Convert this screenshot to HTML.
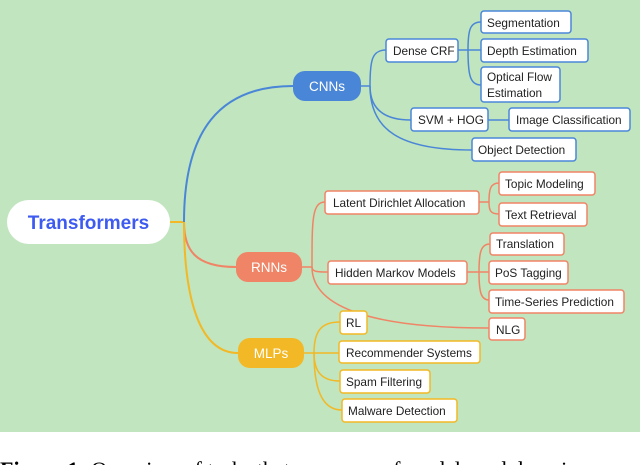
<!DOCTYPE html>
<html><head><meta charset="utf-8"><style>
body{margin:0;width:640px;height:465px;overflow:hidden;background:#fff}
svg{display:block}
text{font-family:"Liberation Sans","DejaVu Sans",sans-serif;font-size:11.8px;fill:#222}
.cap{font-family:"Liberation Serif",serif;font-size:22px;fill:#000}
</style></head><body>
<svg width="640" height="465" viewBox="0 0 640 465">
<rect x="0" y="0" width="640" height="432" fill="#c1e5be"/>
<g fill="none" stroke-width="2">
<path d="M170 222 H184" stroke="#f2b825"/>
<path d="M184 222 C184 130 220 86 293 86" stroke="#4a86d8"/>
<path d="M184 222 C184 250 195 267 236 267" stroke="#f08466"/>
<path d="M184 222 C184 300 200 353 238 353" stroke="#f2b825"/>
</g>
<g fill="none" stroke="#4a86d8" stroke-width="1.5">
<path d="M361 86 H370"/>
<path d="M370 86 C370 60 372 50 386 50"/>
<path d="M370 86 C370 110 385 120 411 120"/>
<path d="M370 86 C370 130 400 150 472 150"/>
<path d="M458 50 H468"/>
<path d="M468 50 C468 30 470 22 481 22"/>
<path d="M468 50 H481"/>
<path d="M468 50 C468 75 470 85 481 85"/>
<path d="M488 120 H509"/>
</g>
<g fill="none" stroke="#f08466" stroke-width="1.5">
<path d="M302 267 H312"/>
<path d="M312 267 C312 220 312 202 325 202"/>
<path d="M312 267 C312 272 318 272 328 272"/>
<path d="M312 267 C312 310 380 328 489 328"/>
<path d="M479 202 H489"/>
<path d="M489 202 C489 190 490 183 499 183"/>
<path d="M489 202 C489 210 490 214 499 214"/>
<path d="M467 272 H479"/>
<path d="M479 272 C479 252 481 244 490 244"/>
<path d="M479 272 H489"/>
<path d="M479 272 C479 292 481 300 489 300"/>
</g>
<g fill="none" stroke="#f2b825" stroke-width="1.5">
<path d="M304 353 H314"/>
<path d="M314 353 C314 330 322 322 340 322"/>
<path d="M314 353 H339"/>
<path d="M314 353 C314 372 322 381 340 381"/>
<path d="M314 353 C314 395 325 410 342 410"/>
</g>
<rect x="7" y="200" width="163" height="44" rx="22" fill="#fff"/>
<text x="88.5" y="229" text-anchor="middle" style="font-size:19px;font-weight:bold;fill:#3d5af1">Transformers</text>
<rect x="293" y="71" width="68" height="30" rx="12" fill="#4a86d8"/>
<text x="327" y="91" text-anchor="middle" style="fill:#fff;font-size:13.5px">CNNs</text>
<rect x="236" y="252" width="66" height="30" rx="12" fill="#f08466"/>
<text x="269" y="272" text-anchor="middle" style="fill:#fff;font-size:13.5px">RNNs</text>
<rect x="238" y="338" width="66" height="30" rx="12" fill="#f2b825"/>
<text x="271" y="358" text-anchor="middle" style="fill:#fff;font-size:13.5px">MLPs</text>
<g fill="#fff" stroke="#4a86d8" stroke-width="1.5">
<rect x="386" y="39" width="72" height="23" rx="3"/>
<rect x="481" y="11" width="90" height="22" rx="3"/>
<rect x="481" y="39" width="107" height="23" rx="3"/>
<rect x="481" y="67" width="79" height="35" rx="3"/>
<rect x="411" y="108" width="77" height="23" rx="3"/>
<rect x="509" y="108" width="121" height="23" rx="3"/>
<rect x="472" y="138" width="104" height="23" rx="3"/>
</g>
<g fill="#fff" stroke="#f08466" stroke-width="1.5">
<rect x="325" y="191" width="154" height="23" rx="3"/>
<rect x="499" y="172" width="96" height="23" rx="3"/>
<rect x="499" y="203" width="88" height="23" rx="3"/>
<rect x="328" y="261" width="139" height="23" rx="3"/>
<rect x="490" y="233" width="74" height="22" rx="3"/>
<rect x="489" y="261" width="79" height="23" rx="3"/>
<rect x="489" y="290" width="135" height="23" rx="3"/>
<rect x="489" y="318" width="36" height="22" rx="3"/>
</g>
<g fill="#fff" stroke="#f2b825" stroke-width="1.5">
<rect x="340" y="311" width="27" height="23" rx="3"/>
<rect x="339" y="341" width="141" height="22" rx="3"/>
<rect x="340" y="370" width="90" height="23" rx="3"/>
<rect x="342" y="399" width="115" height="23" rx="3"/>
</g>
<text x="393" y="55">Dense CRF</text>
<text x="487" y="27">Segmentation</text>
<text x="487" y="55">Depth Estimation</text>
<text x="487" y="81">Optical Flow</text>
<text x="487" y="97">Estimation</text>
<text x="418" y="124">SVM + HOG</text>
<text x="516" y="124">Image Classification</text>
<text x="478" y="154">Object Detection</text>
<text x="333" y="207">Latent Dirichlet Allocation</text>
<text x="505" y="188">Topic Modeling</text>
<text x="505" y="219">Text Retrieval</text>
<text x="335" y="277">Hidden Markov Models</text>
<text x="496" y="248">Translation</text>
<text x="495" y="277">PoS Tagging</text>
<text x="495" y="306">Time-Series Prediction</text>
<text x="496" y="334">NLG</text>
<text x="346" y="327">RL</text>
<text x="346" y="357">Recommender Systems</text>
<text x="346" y="386">Spam Filtering</text>
<text x="348" y="415">Malware Detection</text>
<text x="0" y="477" class="cap"><tspan font-weight="bold">Figure 1:</tspan> Overview of tasks that use some of models and domains</text>
</svg>
</body></html>
